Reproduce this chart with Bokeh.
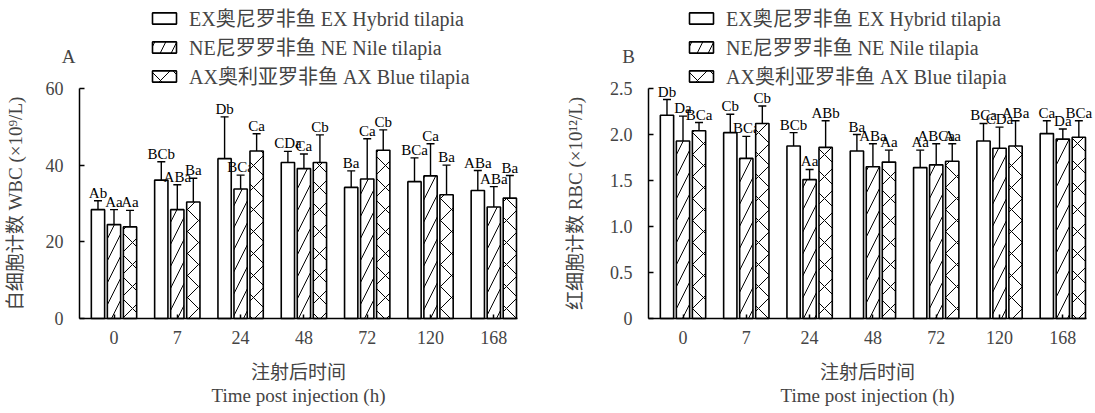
import numpy as np
from bokeh.plotting import figure
from bokeh.models import (ColumnDataSource, Range1d, FixedTicker, Whisker, TeeHead,
                          Legend, LegendItem, Label, LinearAxis)
from bokeh.layouts import row
from bokeh.core.properties import value
from bokeh.embed import file_html
from bokeh.resources import INLINE

# ---------------- data ----------------
times = ["0", "7", "24", "48", "72", "120", "168"]
series_names = ["EX奥尼罗非鱼 EX Hybrid tilapia",
                "NE尼罗罗非鱼 NE Nile tilapia",
                "AX奥利亚罗非鱼 AX Blue tilapia"]

# Panel A: WBC (x10^9/L)
wbc_ex = [28.4, 36.1, 41.7, 40.7, 34.2, 35.7, 33.4]
wbc_ne = [24.5, 28.4, 33.8, 39.1, 36.4, 37.2, 29.1]
wbc_ax = [23.9, 30.4, 43.7, 40.7, 43.9, 32.3, 31.4]
wbc_ex_err = [2.3, 4.8, 10.9, 2.9, 4.3, 6.2, 5.2]
wbc_ne_err = [3.9, 6.5, 3.6, 3.8, 10.5, 8.4, 5.3]
wbc_ax_err = [4.3, 6.2, 4.5, 7.2, 5.3, 7.7, 5.9]
wbc_ex_lab = ["Ab", "BCb", "Db", "CDa", "Ba", "BCa", "ABa"]
wbc_ne_lab = ["Aa", "ABa", "BCa", "Ca", "Ca", "Ca", "ABa"]
wbc_ax_lab = ["Aa", "Ba", "Ca", "Cb", "Cb", "Ba", "Ba"]
wbc_ticks = [0, 20, 40, 60]
wbc_tick_labels = ["0", "20", "40", "60"]

# Panel B: RBC (x10^12/L)
rbc_ex = [2.21, 2.02, 1.875, 1.82, 1.64, 1.93, 2.01]
rbc_ne = [1.93, 1.74, 1.51, 1.65, 1.67, 1.85, 1.95]
rbc_ax = [2.04, 2.12, 1.86, 1.70, 1.71, 1.875, 1.97]
rbc_ex_err = [0.17, 0.20, 0.145, 0.18, 0.19, 0.19, 0.14]
rbc_ne_err = [0.27, 0.24, 0.11, 0.25, 0.23, 0.23, 0.11]
rbc_ax_err = [0.09, 0.19, 0.29, 0.13, 0.19, 0.275, 0.18]
rbc_ex_lab = ["Db", "Cb", "BCb", "Ba", "Aa", "BCa", "Ca"]
rbc_ne_lab = ["Da", "BCa", "Aa", "ABa", "ABCa", "CDa", "Da"]
rbc_ax_lab = ["BCa", "Cb", "ABb", "Aa", "Aa", "ABa", "BCa"]
rbc_ticks = [0, 0.5, 1.0, 1.5, 2.0, 2.5]
rbc_tick_labels = ["0", "0.5", "1.0", "1.5", "2.0", "2.5"]

SERIF = "'Liberation Serif', 'Noto Sans CJK SC'"
hatches = [" ", "/", "x"]
offsets = [-0.253, 0.0, 0.253]
BAR_W = 0.21
H = 413
X_LO, X_HI = -0.545, 6.374      # axis extent in data units
FRAME_TOP, FRAME_BOT = 88, 318   # pixel rows of the plotting area


def build(letter, means, errs, labs, ylabel, yticks, ytick_labels, ymax,
          width, ax_left, legend_left, ylab_standoff):
    # the whole figure is the frame; axes are fixed at the data origin
    ax_right = ax_left + 438
    ppx = (ax_right - ax_left) / (X_HI - X_LO)
    x0 = X_LO - ax_left / ppx
    x1 = X_HI + (width - ax_right) / ppx
    ppy = (FRAME_BOT - FRAME_TOP) / ymax
    y1 = ymax + FRAME_TOP / ppy
    y0 = -(H - FRAME_BOT) / ppy

    p = figure(width=width, height=H, output_backend="svg", toolbar_location=None,
               x_range=Range1d(x0, x1), y_range=Range1d(y0, y1),
               min_border=0, min_border_left=0, min_border_right=0,
               min_border_top=0, min_border_bottom=0)
    p.outline_line_color = None
    p.xgrid.visible = False
    p.ygrid.visible = False
    p.background_fill_color = "white"
    p.border_fill_color = "white"

    g = np.arange(len(times))
    renderers = []
    for k in range(3):
        m = np.array(means[k])
        e = np.array(errs[k])
        src = ColumnDataSource(dict(x=g + offsets[k], top=m, upper=m + e, lab=labs[k]))
        r = p.vbar(x="x", top="top", width=BAR_W, bottom=0, source=src,
                   fill_color="white", line_color="black", line_width=1.6,
                   hatch_pattern=hatches[k], hatch_color="black",
                   hatch_weight=1.0, hatch_scale=22)
        renderers.append(r)
        p.add_layout(Whisker(source=src, base="x", lower="top", upper="upper",
                             dimension="height", line_color="black", line_width=1.4,
                             upper_head=TeeHead(size=8, line_width=1.4, line_color="black"),
                             lower_head=None))
        p.text(x="x", y="upper", text="lab", source=src, text_align="center",
               text_baseline="bottom", y_offset=0,
               text_font=value("Liberation Serif"), text_font_size="15px",
               text_color="black")

    # x axis
    xa = p.xaxis[0]
    xa.fixed_location = 0
    xa.bounds = (X_LO, X_HI)
    xa.ticker = FixedTicker(ticks=list(g))
    xa.major_label_overrides = {int(i): t for i, t in zip(g, times)}
    xa.major_tick_in = 4
    xa.major_tick_out = 0
    xa.minor_tick_line_color = None
    xa.axis_line_width = 1.5
    xa.major_tick_line_width = 1.5
    xa.major_label_standoff = 12
    xa.major_label_text_font = SERIF
    xa.major_label_text_font_size = "18px"
    xa.axis_label = "注射后时间"
    xa.axis_label_text_font = SERIF
    xa.axis_label_text_font_size = "19px"
    xa.axis_label_text_font_style = "normal"
    xa.axis_label_standoff = 15

    xa2 = LinearAxis(ticker=FixedTicker(ticks=[]), axis_line_color=None,
                     fixed_location=0, bounds=(X_LO, X_HI),
                     major_tick_line_color=None, minor_tick_line_color=None,
                     major_label_standoff=0, major_tick_out=0, major_tick_in=0,
                     axis_label="Time post injection (h)",
                     axis_label_text_font=SERIF, axis_label_text_font_size="19px",
                     axis_label_text_font_style="normal", axis_label_standoff=66)
    p.add_layout(xa2, "below")

    # y axis
    ya = p.yaxis[0]
    ya.fixed_location = X_LO
    ya.bounds = (0, ymax)
    ya.ticker = FixedTicker(ticks=yticks)
    ya.major_label_overrides = {t: s for t, s in zip(yticks, ytick_labels)}
    ya.major_tick_in = 5
    ya.major_tick_out = 0
    ya.minor_tick_line_color = None
    ya.axis_line_width = 1.5
    ya.major_tick_line_width = 1.5
    ya.major_label_standoff = 16
    ya.major_label_text_font = SERIF
    ya.major_label_text_font_size = "18px"
    ya.axis_label = ylabel
    ya.axis_label_text_font = SERIF
    ya.axis_label_text_font_size = "19px"
    ya.axis_label_text_font_style = "normal"
    ya.axis_label_standoff = ylab_standoff

    legend = Legend(items=[LegendItem(label=n, renderers=[r]) for n, r in zip(series_names, renderers)],
                    location=(legend_left, H - 90), glyph_width=30, glyph_height=14,
                    label_standoff=10, spacing=0, padding=0, margin=0,
                    border_line_alpha=0, background_fill_alpha=0,
                    label_text_font=SERIF, label_text_font_size="20px", label_height=22)
    p.add_layout(legend)

    p.add_layout(Label(x=68, y=H - 56, x_units="screen", y_units="screen", text=letter,
                       text_align="center", text_baseline="middle",
                       text_font=SERIF, text_font_size="19px"))
    return p


pA = build("A", [wbc_ex, wbc_ne, wbc_ax], [wbc_ex_err, wbc_ne_err, wbc_ax_err],
           [wbc_ex_lab, wbc_ne_lab, wbc_ax_lab], "白细胞计数 WBC (×10⁹/L)",
           wbc_ticks, wbc_tick_labels, 60, 560, 79, 149, 17)
pB = build("B", [rbc_ex, rbc_ne, rbc_ax], [rbc_ex_err, rbc_ne_err, rbc_ax_err],
           [rbc_ex_lab, rbc_ne_lab, rbc_ax_lab], "红细胞计数 RBC (×10¹²/L)",
           rbc_ticks, rbc_tick_labels, 2.5, 535, 88, 126, 21)

layout = row(pA, pB, spacing=0)
open("out.html", "w").write(file_html(layout, INLINE))
